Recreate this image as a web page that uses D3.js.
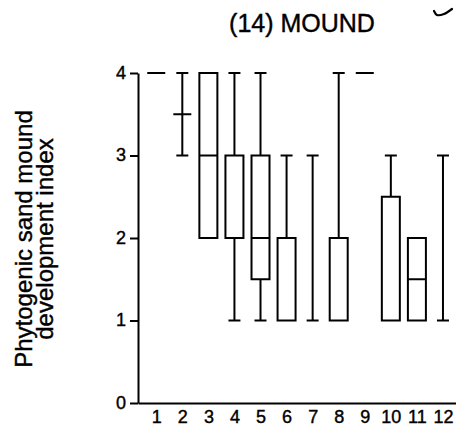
<!DOCTYPE html>
<html>
<head>
<meta charset="utf-8">
<script src="https://cdn.jsdelivr.net/npm/d3@7"></script>
<style>
  body { margin: 0; background: #fff; }
  text { font-family: "Liberation Sans", Arial, sans-serif; fill: #000; stroke: #000; stroke-width: 0.4px; }
</style>
</head>
<body>
<div class="canvas"></div>
<script>
// boxplot stats per site
const sites   = [1, 2, 3, 4, 5, 6, 7, 8, 9, 10, 11, 12];
const mins    = [4, 3,   2, 1, 1,   1, 1, 1, 4, 1,   1,   1];
const q1s     = [4, 3.5, 2, 2, 1.5, 1, 1, 1, 4, 1,   1,   1];
const medians = [4, 3.5, 3, 2, 2,   1, 1, 1, 4, 1,   1.5, 1];
const q3s     = [4, 3.5, 4, 3, 3,   2, 1, 2, 4, 2.5, 2,   1];
const maxs    = [4, 4,   4, 4, 4,   3, 3, 4, 4, 3,   2,   3];
const yTicks  = [0, 1, 2, 3, 4];

const width = 456, height = 431;
const boxW = 18, capW = 12;

const svg = d3.select('.canvas')
    .append('svg')
    .attr('width', width)
    .attr('height', height)

const x = d3.scaleLinear().domain([0.3, 12.5]).range([138, 456])
const y = d3.scaleLinear().domain([0, 4]).range([403, 73])

// title
svg.append('text')
    .attr('x', 302)
    .attr('y', 32)
    .attr('text-anchor', 'middle')
    .style('font-size', '25px')
    .text('(14) MOUND')

// little hand-drawn tick top right
svg.append('path')
    .attr('d', d3.line().curve(d3.curveCatmullRom)([[434, 11], [437, 15], [444, 14], [452, 9]]))
    .attr('fill', 'none')
    .attr('stroke', '#000')
    .attr('stroke-width', 2.2)
    .attr('stroke-linecap', 'round')

// y label
const ylab = svg.append('text')
    .attr('transform', 'translate(0,239) rotate(-90)')
    .attr('text-anchor', 'middle')
    .style('font-size', '24px')
ylab.append('tspan').attr('x', 0).attr('y', 32).text('Phytogenic sand mound')
ylab.append('tspan').attr('x', 0).attr('y', 53).text('development index')

// axes
const yAxis = svg.append('g')
    .attr('transform', `translate(${x(0.3)},0)`)
    .call(d3.axisLeft(y).tickValues(yTicks).tickSize(8).tickSizeOuter(0).tickPadding(4).tickFormat(d3.format('d')))
yAxis.selectAll('text').style('font-size', '18px').attr('dy', '0.3em')

const xAxis = svg.append('g')
    .attr('transform', `translate(0,${y(0)})`)
    .call(d3.axisBottom(x).tickValues(sites).tickSize(0).tickSizeOuter(0).tickPadding(7).tickFormat(d3.format('d')))
xAxis.selectAll('text').style('font-size', '18px')

svg.selectAll('.domain, .tick line')
    .attr('stroke', '#000')
    .attr('stroke-width', 2)

// boxes
const data = sites.map((s, i) => ({
    site: s, min: mins[i], q1: q1s[i], med: medians[i], q3: q3s[i], max: maxs[i]
}))

const g = svg.append('g')
    .attr('fill', 'none')
    .attr('stroke', '#000')
    .attr('stroke-width', 2)

data.forEach(d => {
    const cx = x(d.site)
    const flat = d.q3 === d.q1
    if (flat && d.min !== d.max) {
        // no box: whisker straight from min to max
        g.append('line').attr('x1', cx).attr('x2', cx).attr('y1', y(d.min)).attr('y2', y(d.max))
        g.append('line').attr('x1', cx - capW / 2).attr('x2', cx + capW / 2).attr('y1', y(d.max)).attr('y2', y(d.max))
        g.append('line').attr('x1', cx - capW / 2).attr('x2', cx + capW / 2).attr('y1', y(d.min)).attr('y2', y(d.min))
    } else if (!flat) {
        if (d.max > d.q3) {
            g.append('line').attr('x1', cx).attr('x2', cx).attr('y1', y(d.q3)).attr('y2', y(d.max))
            g.append('line').attr('x1', cx - capW / 2).attr('x2', cx + capW / 2).attr('y1', y(d.max)).attr('y2', y(d.max))
        }
        if (d.min < d.q1) {
            g.append('line').attr('x1', cx).attr('x2', cx).attr('y1', y(d.q1)).attr('y2', y(d.min))
            g.append('line').attr('x1', cx - capW / 2).attr('x2', cx + capW / 2).attr('y1', y(d.min)).attr('y2', y(d.min))
        }
        g.append('rect')
            .attr('x', cx - boxW / 2)
            .attr('y', y(d.q3))
            .attr('width', boxW)
            .attr('height', y(d.q1) - y(d.q3))
            .attr('fill', '#fff')
    }
    if (d.med !== d.min || d.min === d.max) {
        g.append('line').attr('x1', cx - boxW / 2).attr('x2', cx + boxW / 2).attr('y1', y(d.med)).attr('y2', y(d.med))
    }
})
</script>
</body>
</html>
